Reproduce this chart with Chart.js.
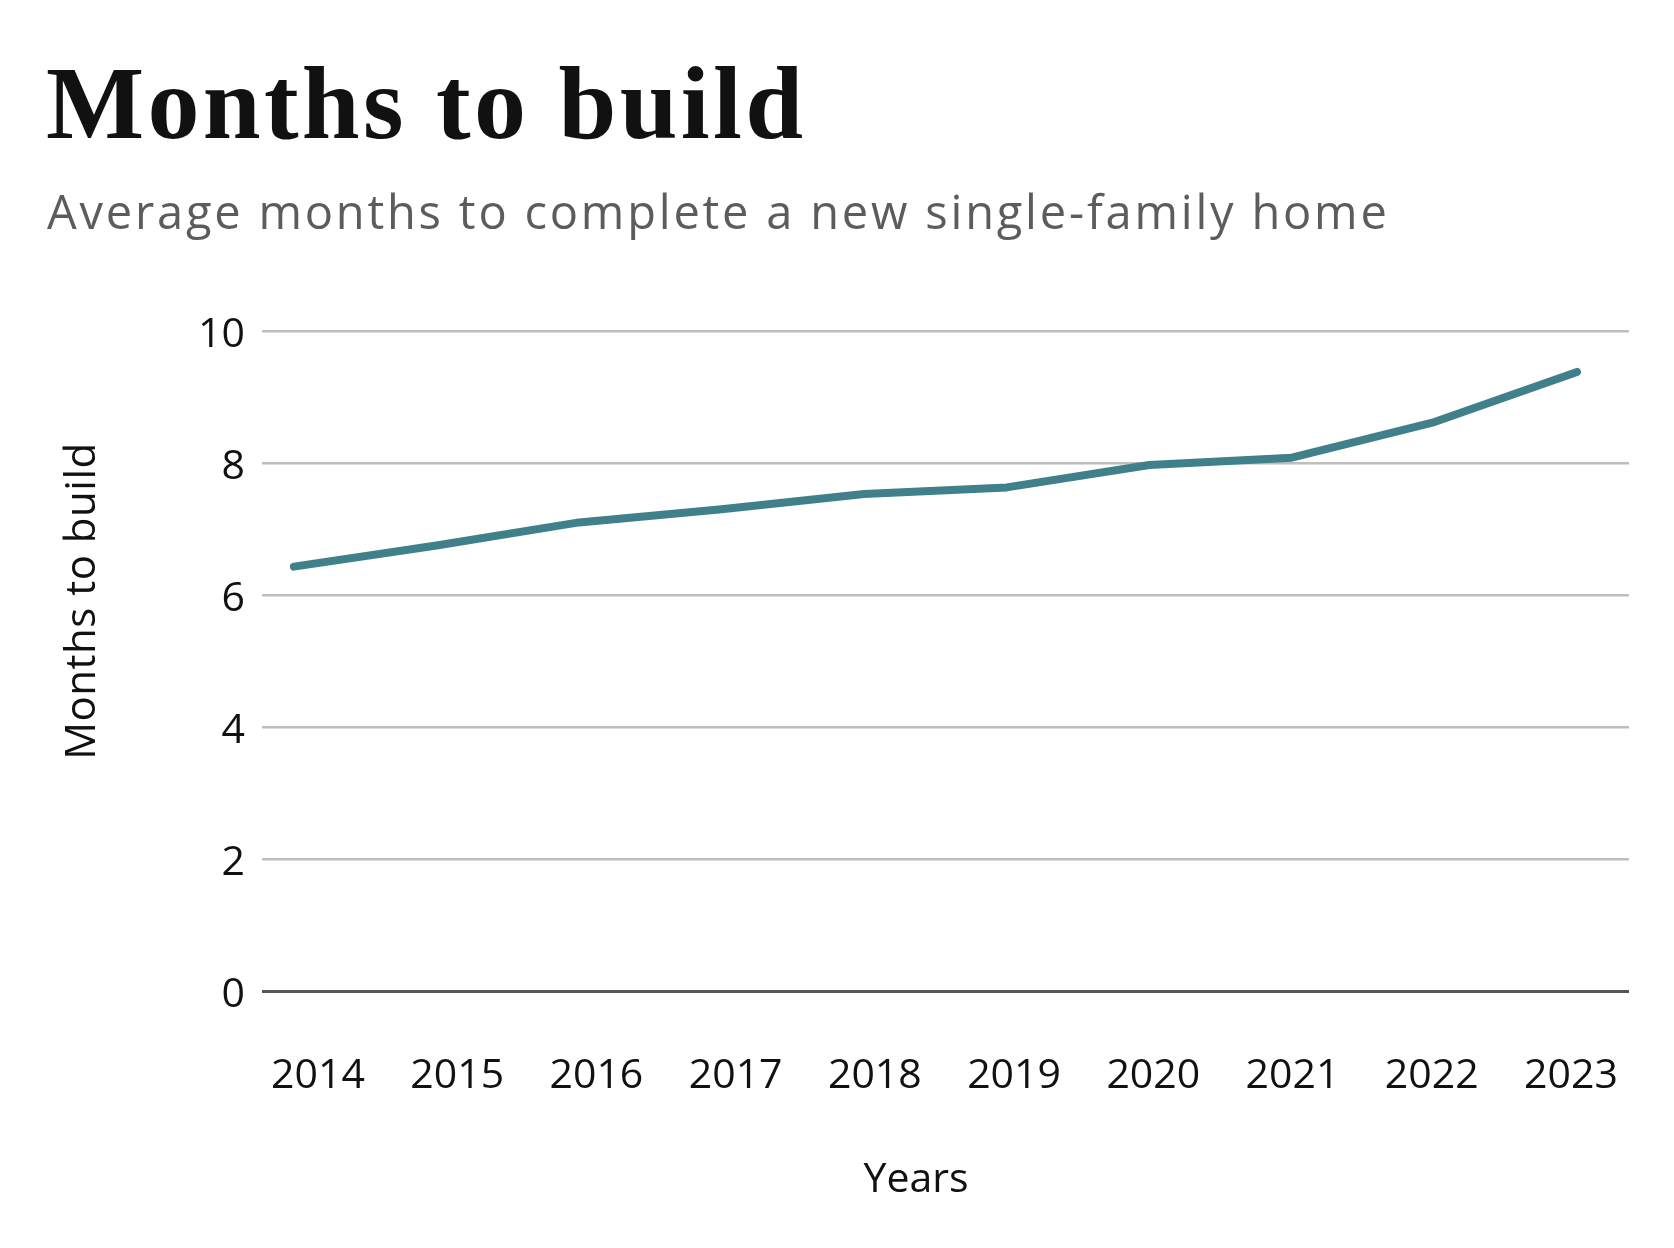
<!DOCTYPE html>
<html>
<head>
<meta charset="utf-8">
<script src="https://cdn.jsdelivr.net/npm/chart.js@4.4.1/dist/chart.umd.min.js"></script>
<style>
  html, body { margin: 0; padding: 0; background: #fff; }
  #wrap { position: relative; width: 1674px; height: 1248px; overflow: hidden; }
  #pCanvas { position: absolute; left: 0; top: 0; }
  .txt { position: absolute; white-space: nowrap; }
  #title { left: 46px; top: 51px; font: bold 104px/1 "Liberation Serif", serif; color: #111; letter-spacing: 3.3px; }
  #subtitle { left: 47px; top: 188px; font: 47px/1 "Open Sans", sans-serif; color: #5c5c5c; letter-spacing: 2.8px; }
  #yTitle { left: -121px; top: 580px; width: 400px; text-align: center; font: 42px/1 "Open Sans", sans-serif; color: #111; letter-spacing: 0.5px; transform: rotate(-90deg); }
  #xTitle { left: 766px; top: 1156px; width: 300px; text-align: center; font: 41px/1 "Open Sans", sans-serif; color: #111; }
</style>
</head>
<body>
<div id="wrap">
  <canvas id="pCanvas" width="1674" height="1248"></canvas>
  <div class="txt" id="title">Months to build</div>
  <div class="txt" id="subtitle">Average months to complete a new single-family home</div>
  <div class="txt" id="yTitle">Months to build</div>
  <div class="txt" id="xTitle">Years</div>
</div>
<script>
const years = [ 2014, 2015, 2016, 2017, 2018, 2019, 2020, 2021, 2022, 2023 ];
const months = [ 6.43, 6.75, 7.1, 7.3, 7.53, 7.63, 7.97, 8.08, 8.62, 9.38 ];
const yTicks = [ 0, 2, 4, 6, 8, 10 ];

const ctx = document.getElementById( "pCanvas" ).getContext( "2d" );
const tickFont = { family: "'Open Sans', sans-serif", size: 41 };

new Chart( ctx, {
  type: "line",
  data: {
    datasets: [ {
      label: "Months to build",
      data: years.map( ( y, i ) => ( { x: y, y: months[ i ] } ) ),
      xAxisID: "x",
      yAxisID: "y",
      borderColor: "#3f808a",
      borderWidth: 8,
      borderCapStyle: "round",
      borderJoinStyle: "round",
      pointRadius: 0,
      tension: 0,
      clip: false
    } ]
  },
  options: {
    responsive: false,
    devicePixelRatio: 1,
    animation: false,
    layout: { padding: { top: 331, right: 45, left: 0, bottom: 0 } },
    plugins: { legend: { display: false }, tooltip: { enabled: false } },
    scales: {
      // data axis, hidden; the year labels sit on their own axis below
      x: { type: "linear", display: false, min: 2013.776, max: 2023.365 },
      years: {
        type: "linear",
        axis: "x",
        position: "bottom",
        min: 2013.598,
        max: 2023.417,
        afterBuildTicks: s => { s.ticks = years.map( v => ( { value: v } ) ); },
        // fixed height, and no side padding (the big tick padding would shrink the plot otherwise)
        afterFit: s => { s.height = 257; s.paddingLeft = 0; s.paddingRight = 0; },
        grid: { display: false, drawTicks: false },
        border: { display: false },
        ticks: { color: "#111", font: tickFont, padding: 61, maxRotation: 0, autoSkip: false, callback: v => String( v ) }
      },
      y: {
        min: 0,
        max: 10,
        afterBuildTicks: s => { s.ticks = yTicks.map( v => ( { value: v } ) ); },
        afterFit: s => { s.width = 262; },
        grid: {
          color: c => c.tick.value === 0 ? "#555" : "#bebebe",
          lineWidth: c => c.tick.value === 0 ? 3 : 2.5,
          drawTicks: false
        },
        border: { display: false },
        ticks: { color: "#111", font: tickFont, padding: 17, labelOffset: 4 }
      }
    }
  }
} );
</script>
</body>
</html>
